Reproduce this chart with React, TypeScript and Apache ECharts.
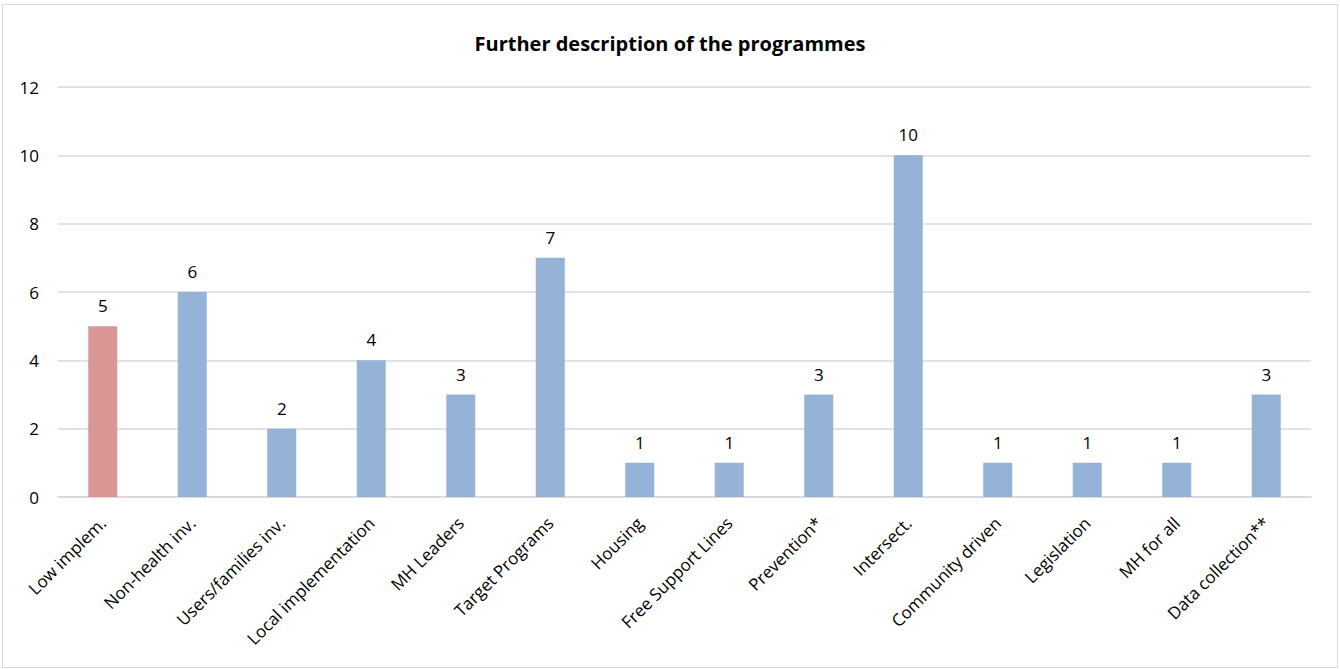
import React, { useEffect, useRef } from "react";
import * as echarts from "echarts";

const categories = [
  "Low implem.",
  "Non-health inv.",
  "Users/families inv.",
  "Local implementation",
  "MH Leaders",
  "Target Programs",
  "Housing",
  "Free Support Lines",
  "Prevention*",
  "Intersect.",
  "Community driven",
  "Legislation",
  "MH for all",
  "Data collection**",
];
const values = [5, 6, 2, 4, 3, 7, 1, 1, 3, 10, 1, 1, 1, 3];
const highlighted = [true, false, false, false, false, false, false, false, false, false, false, false, false, false];
const yTicks = { min: 0, max: 12, interval: 2 };

export default function App() {
  const ref = useRef<HTMLDivElement>(null);
  useEffect(() => {
    document.body.style.margin = "0";
    const chart = echarts.init(ref.current!, undefined, { renderer: "svg" });
    const font = "'Open Sans', 'Noto Sans', sans-serif";
    chart.setOption({
      animation: false,
      backgroundColor: "#ffffff",
      textStyle: { fontFamily: font },
      title: {
        text: "Further description of the programmes",
        left: "center",
        top: 28,
        textStyle: { fontSize: 20, fontWeight: "bold", color: "#000000", fontFamily: font },
      },
      graphic: [
        {
          type: "rect",
          shape: { x: 2.5, y: 4.5, width: 1335, height: 663 },
          style: { fill: "none", stroke: "#D9D9D9", lineWidth: 1 },
          silent: true,
        },
      ],
      grid: { left: 58, right: 29, top: 87, bottom: 172, containLabel: false },
      xAxis: {
        type: "category",
        data: categories,
        axisLine: { show: true, lineStyle: { color: "#D9D9D9", width: 1.5 } },
        axisTick: { show: false },
        axisLabel: {
          rotate: 45,
          interval: 0,
          fontSize: 17,
          color: "#000000",
          margin: 23,
          fontFamily: font,
        },
      },
      yAxis: {
        type: "value",
        min: yTicks.min,
        max: yTicks.max,
        interval: yTicks.interval,
        axisLine: { show: false },
        axisTick: { show: false },
        splitLine: { lineStyle: { color: "#D9D9D9", width: 1.5 } },
        axisLabel: { fontSize: 17, color: "#000000", margin: 19, fontFamily: font },
      },
      series: [
        {
          type: "bar",
          barWidth: 29,
          data: values.map((v, i) => ({
            value: v,
            itemStyle: { color: highlighted[i] ? "#D99694" : "#95B3D7" },
          })),
          label: {
            show: true,
            position: "top",
            distance: 12,
            fontSize: 17,
            color: "#000000",
            fontFamily: font,
          },
        },
      ],
    });
    return () => chart.dispose();
  }, []);
  return <div ref={ref} style={{ width: 1340, height: 669 }} />;
}
